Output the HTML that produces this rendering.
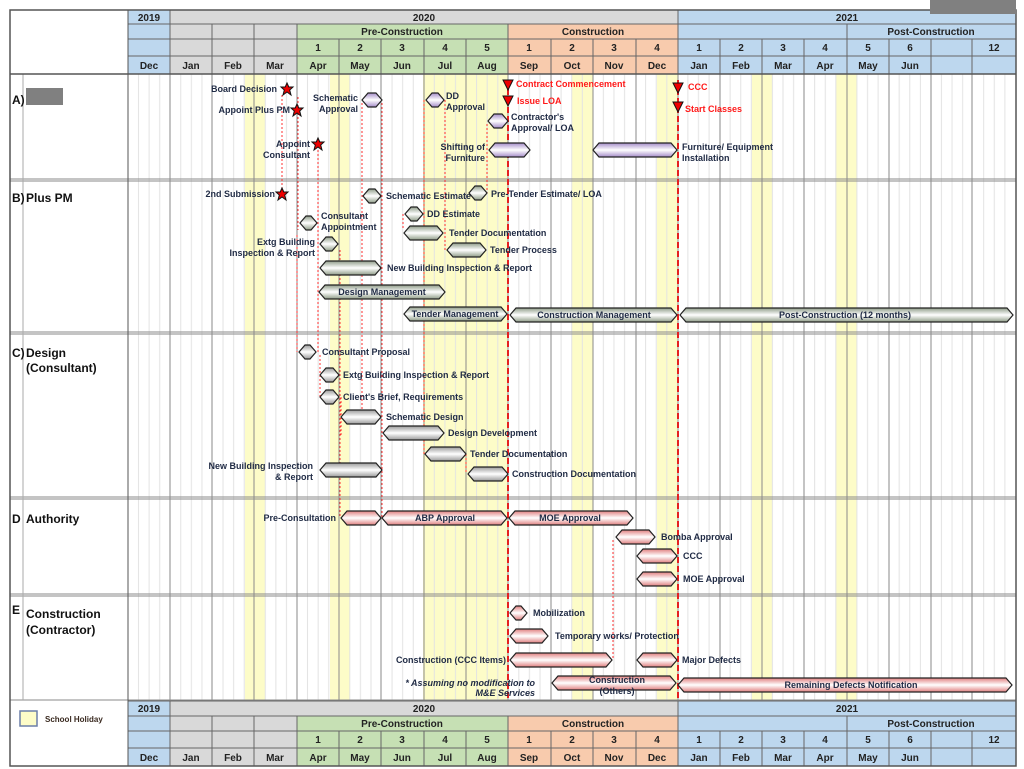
<!DOCTYPE html>
<html><head><meta charset="utf-8">
<style>
html,body{margin:0;padding:0;background:#fff;}
svg{display:block;font-family:"Liberation Sans",sans-serif;font-weight:bold;}
.t{font-size:9px;fill:#1f2a44;}
.r{font-size:9px;fill:#ff1a1a;}
.h{font-size:10px;fill:#222;text-anchor:middle;}
.s{font-size:12px;fill:#111;}
</style></head><body>
<svg id="g" width="1024" height="769" viewBox="0 0 1024 769" xmlns="http://www.w3.org/2000/svg">
<defs>
<pattern id="wk" x="128" y="0" width="42.26" height="10" patternUnits="userSpaceOnUse">
<line x1="10.5" y1="0" x2="10.5" y2="10" stroke="#e2e2e2" stroke-width="1"/>
<line x1="21.1" y1="0" x2="21.1" y2="10" stroke="#e2e2e2" stroke-width="1"/>
<line x1="31.7" y1="0" x2="31.7" y2="10" stroke="#e2e2e2" stroke-width="1"/>
</pattern>
<linearGradient id="gp" x1="0" y1="0" x2="0" y2="1"><stop offset="0" stop-color="#a58cc8"/><stop offset="0.5" stop-color="#fff"/><stop offset="1" stop-color="#a58cc8"/></linearGradient>
<linearGradient id="gg" x1="0" y1="0" x2="0" y2="1"><stop offset="0" stop-color="#8f9c88"/><stop offset="0.5" stop-color="#fff"/><stop offset="1" stop-color="#8f9c88"/></linearGradient>
<linearGradient id="gw" x1="0" y1="0" x2="0" y2="1"><stop offset="0" stop-color="#9a9a9a"/><stop offset="0.5" stop-color="#fff"/><stop offset="1" stop-color="#9a9a9a"/></linearGradient>
<linearGradient id="gr" x1="0" y1="0" x2="0" y2="1"><stop offset="0" stop-color="#e07f7f"/><stop offset="0.5" stop-color="#fff"/><stop offset="1" stop-color="#e07f7f"/></linearGradient>
</defs>

<!-- background body -->
<rect x="128" y="74" width="888" height="627" fill="#fff"/>
<g fill="#fdfcc8">
<rect x="245" y="74" width="20" height="627"/>
<rect x="330" y="74" width="20" height="627"/>
<rect x="423" y="74" width="85" height="627"/>
<rect x="572" y="74" width="21" height="627"/>
<rect x="657" y="74" width="21" height="627"/>
<rect x="752" y="74" width="20" height="627"/>
<rect x="836" y="74" width="21" height="627"/>
</g>
<rect x="128" y="74" width="888" height="627" fill="url(#wk)"/>
<g id="mlines" stroke="#8a8a8a" stroke-width="1"></g>

<!-- section separators -->
<g stroke="#8a8a8a" stroke-width="1">
<line x1="10" y1="179" x2="1016" y2="179"/><line x1="10" y1="181" x2="1016" y2="181"/>
<line x1="10" y1="332" x2="1016" y2="332"/><line x1="10" y1="334" x2="1016" y2="334"/>
<line x1="10" y1="497" x2="1016" y2="497"/><line x1="10" y1="499" x2="1016" y2="499"/>
<line x1="10" y1="594" x2="1016" y2="594"/><line x1="10" y1="596" x2="1016" y2="596"/>
<line x1="10" y1="700" x2="1016" y2="700"/>
<line x1="23" y1="74" x2="23" y2="700" stroke="#aaa"/>
</g>

<!-- dotted red connectors -->
<g stroke="#ff3030" stroke-width="1" stroke-dasharray="2,2" fill="none">
<line x1="282" y1="95" x2="282" y2="190"/>
<line x1="298" y1="97" x2="298" y2="230"/>
<line x1="318" y1="150" x2="318" y2="352"/>
<line x1="297" y1="235" x2="297" y2="352"/>
<line x1="340" y1="250" x2="340" y2="518"/>
<line x1="362" y1="103" x2="362" y2="415"/>
<line x1="382" y1="103" x2="382" y2="518"/>
<line x1="403" y1="214" x2="403" y2="230"/>
<line x1="424" y1="100" x2="424" y2="455"/>
<line x1="445" y1="100" x2="445" y2="250"/>
<line x1="466" y1="454" x2="466" y2="474"/>
<line x1="487" y1="124" x2="487" y2="193"/>
<line x1="320" y1="355" x2="320" y2="397"/>
<line x1="341" y1="397" x2="341" y2="435"/>
<line x1="613" y1="540" x2="613" y2="660"/>
</g>
<g stroke="#e52020" stroke-width="2" stroke-dasharray="6,3">
<line x1="508" y1="80" x2="508" y2="700"/>
<line x1="678" y1="80" x2="678" y2="700"/>
</g>

<g id="bars"></g>

<!-- stars & triangles -->
<g fill="#e00" stroke="#111" stroke-width="1">
<polygon id="st1" points="0,-6 1.8,-2 6,-2 2.7,1 4,6 0,3 -4,6 -2.7,1 -6,-2 -1.8,-2" transform="translate(287,89)"/>
<polygon points="0,-6 1.8,-2 6,-2 2.7,1 4,6 0,3 -4,6 -2.7,1 -6,-2 -1.8,-2" transform="translate(297,110)"/>
<polygon points="0,-6 1.8,-2 6,-2 2.7,1 4,6 0,3 -4,6 -2.7,1 -6,-2 -1.8,-2" transform="translate(318,144)"/>
<polygon points="0,-6 1.8,-2 6,-2 2.7,1 4,6 0,3 -4,6 -2.7,1 -6,-2 -1.8,-2" transform="translate(282,194)"/>
<polygon points="503,80 513,80 508,90"/>
<polygon points="503,96 513,96 508,106"/>
<polygon points="673,83 683,83 678,93"/>
<polygon points="673,102 683,102 678,112"/>
</g>

<!-- section labels -->
<text class="s" x="12" y="104">A)</text>
<rect x="26" y="88" width="37" height="17" fill="#808080"/>
<text class="s" x="12" y="202">B)</text><text class="s" x="26" y="202">Plus PM</text>
<text class="s" x="12" y="357">C)</text><text class="s" x="26" y="357">Design</text>
<text class="s" x="26" y="372">(Consultant)</text>
<text class="s" x="12" y="523">D</text><text class="s" x="26" y="523">Authority</text>
<text class="s" x="12" y="614">E</text><text class="s" x="26" y="618">Construction</text>
<text class="s" x="26" y="634">(Contractor)</text>

<!-- A texts -->
<g class="t">
<text x="277" y="92" text-anchor="end">Board Decision</text>
<text x="290" y="113" text-anchor="end">Appoint Plus PM</text>
<text x="310" y="147" text-anchor="end">Appoint</text>
<text x="310" y="158" text-anchor="end">Consultant</text>
<text x="358" y="101" text-anchor="end">Schematic</text>
<text x="358" y="112" text-anchor="end">Approval</text>
<text x="446" y="99">DD</text>
<text x="446" y="110">Approval</text>
<text x="511" y="120">Contractor's</text>
<text x="511" y="131">Approval/ LOA</text>
<text x="485" y="150" text-anchor="end">Shifting of</text>
<text x="485" y="161" text-anchor="end">Furniture</text>
<text x="682" y="150">Furniture/ Equipment</text>
<text x="682" y="161">Installation</text>
</g>
<g class="r">
<text x="516" y="87">Contract Commencement</text>
<text x="517" y="104">Issue LOA</text>
<text x="688" y="90">CCC</text>
<text x="685" y="112">Start Classes</text>
</g>

<!-- B texts -->
<g class="t">
<text x="275" y="197" text-anchor="end">2nd Submission</text>
<text x="386" y="199">Schematic Estimate</text>
<text x="491" y="197">Pre-Tender Estimate/ LOA</text>
<text x="321" y="219">Consultant</text>
<text x="321" y="230">Appointment</text>
<text x="427" y="217">DD Estimate</text>
<text x="449" y="236">Tender Documentation</text>
<text x="490" y="253">Tender Process</text>
<text x="315" y="245" text-anchor="end">Extg Building</text>
<text x="315" y="256" text-anchor="end">Inspection &amp; Report</text>
<text x="387" y="271">New Building Inspection &amp; Report</text>
<text x="382" y="295" text-anchor="middle">Design Management</text>
<text x="455" y="317" text-anchor="middle">Tender Management</text>
<text x="594" y="318" text-anchor="middle">Construction Management</text>
<text x="845" y="318" text-anchor="middle">Post-Construction (12 months)</text>
</g>

<!-- C texts -->
<g class="t">
<text x="322" y="355">Consultant Proposal</text>
<text x="343" y="378">Extg Building Inspection &amp; Report</text>
<text x="343" y="400">Client's Brief, Requirements</text>
<text x="386" y="420">Schematic Design</text>
<text x="448" y="436">Design Development</text>
<text x="470" y="457">Tender Documentation</text>
<text x="512" y="477">Construction Documentation</text>
<text x="313" y="469" text-anchor="end">New Building Inspection</text>
<text x="313" y="480" text-anchor="end">&amp; Report</text>
</g>

<!-- D texts -->
<g class="t">
<text x="336" y="521" text-anchor="end">Pre-Consultation</text>
<text x="445" y="521" text-anchor="middle">ABP Approval</text>
<text x="570" y="521" text-anchor="middle">MOE Approval</text>
<text x="661" y="540">Bomba Approval</text>
<text x="683" y="559">CCC</text>
<text x="683" y="582">MOE Approval</text>
</g>

<!-- E texts -->
<g class="t">
<text x="533" y="616">Mobilization</text>
<text x="555" y="639">Temporary works/ Protection</text>
<text x="506" y="663" text-anchor="end">Construction (CCC Items)</text>
<text x="682" y="663">Major Defects</text>
<text x="535" y="686" text-anchor="end" font-style="italic">* Assuming no modification to</text>
<text x="535" y="696" text-anchor="end" font-style="italic">M&amp;E Services</text>
<text x="617" y="683" text-anchor="middle">Construction</text>
<text x="617" y="694" text-anchor="middle">(Others)</text>
<text x="851" y="688" text-anchor="middle">Remaining Defects Notification</text>
</g>

<!-- headers -->
<g id="hdr"></g>
<g class="h">
<text x="149" y="21">2019</text><text x="424" y="21">2020</text><text x="847" y="21">2021</text>
<text x="402" y="35">Pre-Construction</text><text x="593" y="35">Construction</text><text x="931" y="35">Post-Construction</text>
<text x="318" y="51">1</text><text x="360" y="51">2</text><text x="402" y="51">3</text><text x="445" y="51">4</text><text x="487" y="51">5</text>
<text x="529" y="51">1</text><text x="572" y="51">2</text><text x="614" y="51">3</text><text x="657" y="51">4</text>
<text x="699" y="51">1</text><text x="741" y="51">2</text><text x="783" y="51">3</text><text x="825" y="51">4</text><text x="868" y="51">5</text><text x="910" y="51">6</text><text x="994" y="51">12</text>
<text x="149" y="69">Dec</text><text x="191" y="69">Jan</text><text x="233" y="69">Feb</text><text x="275" y="69">Mar</text><text x="318" y="69">Apr</text><text x="360" y="69">May</text><text x="402" y="69">Jun</text><text x="445" y="69">Jul</text><text x="487" y="69">Aug</text><text x="529" y="69">Sep</text><text x="572" y="69">Oct</text><text x="614" y="69">Nov</text><text x="657" y="69">Dec</text><text x="699" y="69">Jan</text><text x="741" y="69">Feb</text><text x="783" y="69">Mar</text><text x="825" y="69">Apr</text><text x="868" y="69">May</text><text x="910" y="69">Jun</text>
</g>
<g class="h">
<text x="149" y="712">2019</text><text x="424" y="712">2020</text><text x="847" y="712">2021</text>
<text x="402" y="727">Pre-Construction</text><text x="593" y="727">Construction</text><text x="931" y="727">Post-Construction</text>
<text x="318" y="743">1</text><text x="360" y="743">2</text><text x="402" y="743">3</text><text x="445" y="743">4</text><text x="487" y="743">5</text>
<text x="529" y="743">1</text><text x="572" y="743">2</text><text x="614" y="743">3</text><text x="657" y="743">4</text>
<text x="699" y="743">1</text><text x="741" y="743">2</text><text x="783" y="743">3</text><text x="825" y="743">4</text><text x="868" y="743">5</text><text x="910" y="743">6</text><text x="994" y="743">12</text>
<text x="149" y="761">Dec</text><text x="191" y="761">Jan</text><text x="233" y="761">Feb</text><text x="275" y="761">Mar</text><text x="318" y="761">Apr</text><text x="360" y="761">May</text><text x="402" y="761">Jun</text><text x="445" y="761">Jul</text><text x="487" y="761">Aug</text><text x="529" y="761">Sep</text><text x="572" y="761">Oct</text><text x="614" y="761">Nov</text><text x="657" y="761">Dec</text><text x="699" y="761">Jan</text><text x="741" y="761">Feb</text><text x="783" y="761">Mar</text><text x="825" y="761">Apr</text><text x="868" y="761">May</text><text x="910" y="761">Jun</text>
</g>

<!-- legend -->
<rect x="20" y="711" width="17" height="15" fill="#fdfcc8" stroke="#6b7fa8" stroke-width="1.5"/>
<text x="45" y="722" style="font-size:8px;fill:#3a2a20">School Holiday</text>

<!-- outer frame -->
<rect x="10" y="10" width="1006" height="756" fill="none" stroke="#555" stroke-width="1.5"/>
<line x1="128" y1="10" x2="128" y2="766" stroke="#555"/>
<line x1="10" y1="74" x2="1016" y2="74" stroke="#555" stroke-width="1.5"/>
<rect x="930" y="0" width="86" height="14" fill="#808080"/>
</svg>
<script>
var NS="http://www.w3.org/2000/svg",svg=document.getElementById('g');
function el(p,t,a){var e=document.createElementNS(NS,t);for(var k in a)e.setAttribute(k,a[k]);p.insertBefore(e,p===svg?null:null);p.appendChild(e);return e;}
var M=[128,170,212,254,297,339,381,424,466,508,551,593,636,678,720,762,804,847,889,931,972,1016];
var ml=document.getElementById('mlines');
M.forEach(function(x){el(ml,'line',{x1:x,y1:74,x2:x,y2:700});});
// bars
var B=[
['gp',362,382,100],['gp',426,444,100],['gp',488,508,121],['gp',489,530,150],['gp',593,677,150],
['gg',363,381,196],['gg',469,487,193],['gg',300,317,223],['gg',405,423,214],['gg',404,443,233],['gg',447,486,250],['gg',320,338,244],['gg',320,381,268],['gg',319,445,292],['gg',404,507,314],['gg',510,677,315],['gg',680,1013,315],
['gw',299,316,352],['gw',320,339,375],['gw',320,339,397],['gw',341,381,417],['gw',383,444,433],['gw',425,466,454],['gw',468,508,474],['gw',320,382,470],
['gr',341,381,518],['gr',382,507,518],['gr',509,633,518],['gr',616,655,537],['gr',637,677,556],['gr',637,677,579],
['gr',510,527,613],['gr',510,548,636],['gr',510,612,660],['gr',637,677,660],['gr',552,676,683],['gr',678,1012,685]];
var bg=document.getElementById('bars');
B.forEach(function(b){var a=b[1],c=b[2],y=b[3],t=6;
el(bg,'polygon',{points:[a,y,a+t,y-7,c-t,y-7,c,y,c-t,y+7,a+t,y+7].join(' ').replace(/(\d+) (\d+)/g,'$1,$2'),fill:'url(#'+b[0]+')',stroke:'#222','stroke-width':1.2});});
// move bars group before texts: already placed in order
// header cells
var H=document.getElementById('hdr');
function rect(x1,x2,y1,y2,f){el(H,'rect',{x:x1,y:y1,width:x2-x1,height:y2-y1,fill:f,stroke:'#666','stroke-width':1});}
function header(r){ // r = [y0,y1,y2,y3,y4]
var BL='#bdd7ee',G='#d9d9d9',GR='#c6e0b4',O='#f8cbad';
rect(128,170,r[0],r[1],BL);rect(170,678,r[0],r[1],G);rect(678,1016,r[0],r[1],BL);
rect(128,170,r[1],r[2],BL);rect(170,212,r[1],r[2],G);rect(212,254,r[1],r[2],G);rect(254,297,r[1],r[2],G);
rect(297,508,r[1],r[2],GR);rect(508,678,r[1],r[2],O);rect(678,847,r[1],r[2],BL);rect(847,1016,r[1],r[2],BL);
for(var i=0;i<M.length-1;i++){var x=M[i],x2=M[i+1],f=i==0||i>=13?BL:(i<4?G:(i<9?GR:O));
rect(x,x2,r[2],r[3],f);rect(x,x2,r[3],r[4],f);}
}
header([10,24,39,56,74]);header([701,716,731,748,766]);
var hdr=H;svg.insertBefore(hdr,svg.querySelector('g.h'));
</script>
</body></html>
